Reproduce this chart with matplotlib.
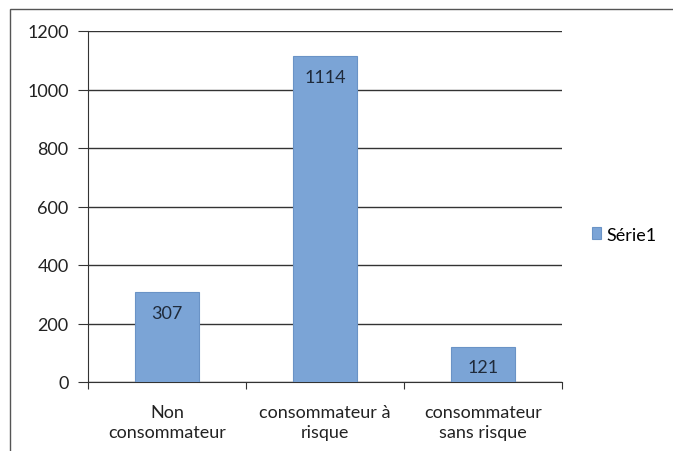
import matplotlib
matplotlib.use('Agg')
import matplotlib.pyplot as plt
from matplotlib.patches import Rectangle

categories = ['Non\nconsommateur', 'consommateur à\nrisque', 'consommateur\nsans risque']
values = [307, 1114, 121]
series_name = 'Série1'
yticks = [0, 200, 400, 600, 800, 1000, 1200]

plt.rcParams['font.family'] = ['Lato', 'DejaVu Sans']

fig = plt.figure(figsize=(6.73, 4.52), dpi=100)
fig.patches.append(Rectangle((10 / 673, -0.1), 1.2, 1.1 - 10 / 452, transform=fig.transFigure,
                             fill=False, edgecolor='#555555', linewidth=1.0))

ax = fig.add_axes([88 / 673, 69 / 452, 474 / 673, 351 / 452])
x = list(range(len(categories)))
bars = ax.bar(x, values, width=0.4, color='#7ba4d6', edgecolor='#6a93c6', linewidth=0.8,
              label=series_name, zorder=3)

for b, v in zip(bars, values):
    ax.text(b.get_x() + b.get_width() / 2, v - 70, str(v), ha='center', va='center',
            fontsize=13, color='#1f2a3a', zorder=4)

ax.set_xlim(-0.5, 2.5)
ax.set_ylim(0, 1200)
ax.set_yticks(yticks)
ax.set_yticklabels([str(t) for t in yticks], fontsize=13, color='#222222')
ax.yaxis.grid(True, color='#333333', linewidth=1.0, zorder=0)
ax.set_axisbelow(True)

ax.set_xticks([-0.5, 0.5, 1.5, 2.5])
ax.set_xticklabels([])
ax.set_xticks(x, minor=True)
ax.set_xticklabels(categories, minor=True, fontsize=13, color='#222222', linespacing=1.3)
ax.tick_params(axis='x', which='minor', length=0, pad=16)
ax.tick_params(axis='x', which='major', length=5, color='#333333', direction='out')
ax.tick_params(axis='y', length=7, color='#333333', direction='out', pad=7)

for s in ['top', 'right']:
    ax.spines[s].set_visible(False)
for s in ['left', 'bottom']:
    ax.spines[s].set_color('#333333')

ax.legend(handles=[bars], labels=[series_name], loc='center left', bbox_to_anchor=(1.03, 0.42),
          frameon=False, fontsize=13, handlelength=0.5, handleheight=0.6, handletextpad=0.25)

fig.savefig('out.png', dpi=100)
